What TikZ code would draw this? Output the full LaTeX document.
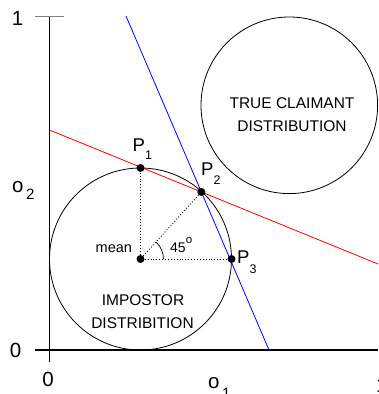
\documentclass[tikz,border=0pt]{standalone}
\usepackage{fontspec}
\setmainfont{Liberation Sans}
\newcommand\lowsub[3]{\raisebox{-#1}{\fontsize{#2}{#2}\selectfont #3}}
\begin{document}
\begin{tikzpicture}[x=1pt,y=-1pt,
  axis/.style={line width=1.2pt,black},
  dist/.style={circle,draw,line width=0.8pt,inner sep=0pt},
  dotpt/.style={circle,fill=black,inner sep=0pt,minimum size=8pt},
  dots/.style={dotted,line width=0.9pt},
  big/.style={font=\fontsize{20.5}{20.5}\selectfont,inner sep=0pt},
  plab/.style={font=\fontsize{18.5}{18.5}\selectfont,inner sep=0pt,anchor=base west},
  disttxt/.style={font=\fontsize{15.5}{15.5}\selectfont,inner sep=0pt,anchor=base},
  txt/.style={font=\fontsize{14.5}{14.5}\selectfont,inner sep=0pt,anchor=base west}]
\useasboundingbox (0,0) rectangle (378,394);
% axes
\coordinate (yTop) at (49.5,16);
\coordinate (yBot) at (49.5,362);
\coordinate (xL) at (35,350);
\coordinate (xR) at (378,350);
\coordinate (tL) at (35,16.5);
\coordinate (tR) at (64,16.5);
\draw[axis] (yTop) -- (yBot);
\draw[axis] (xL) -- (xR);
\draw[line width=1.3pt,gray] (tL) -- (tR);
% axis labels
\node[big] (one) at (17.5,18.5) {1};
\node[big] (zeroL) at (15.5,350.5) {0};
\node[big] (zeroB) at (48,379) {0};
\node[big,anchor=base west] (o2) at (12,192) {o\hspace{2.5pt}\lowsub{7pt}{15}{2}};
\node[big,anchor=base west] (o1) at (208,388) {o\hspace{2.5pt}\lowsub{10pt}{15}{1}};
\node[big,anchor=base west] (oneR) at (376,392) {1};
% distributions
\node[dist,minimum size=182pt] (imp) at (140.5,259) {};
\node[dist,minimum size=176.6pt] (tc) at (289.3,105.3) {};
\node[disttxt] (tc1) at (292,108.5) {TRUE CLAIMANT};
\node[disttxt] (tc2) at (292,131.5) {DISTRIBUTION};
\node[disttxt] (imp1) at (143,305) {IMPOSTOR};
\node[disttxt] (imp2) at (142.5,328) {DISTRIBITION};
% lines
\coordinate (rA) at (49.5,130);
\coordinate (rB) at (378,264);
\coordinate (bA) at (126,16);
\coordinate (bB) at (269,350);
\draw[red,line width=0.8pt] (rA) -- (rB);
\draw[blue,line width=0.8pt] (bA) -- (bB);
% points
\node[dotpt] (mean) at (140.5,259) {};
\node[dotpt] (P1) at (140.5,168) {};
\node[dotpt] (P2) at (intersection of rA--rB and bA--bB) {};
\node[dotpt] (P3) at (231.5,259) {};
\draw[dots] (mean) -- (P1);
\draw[dots] (mean) -- (P3);
\draw[dots] (mean) -- (P2);
\draw[line width=0.7pt] ([shift={(23,0)}]mean.center) arc[start angle=0,end angle=-47,radius=23];
\node[txt] (meanlab) at (95.5,252) {mean};
\node[txt,font=\fontsize{14}{14}\selectfont] (ang) at (170,252) {45\raisebox{9pt}{\fontsize{11.5}{11.5}\selectfont o}};
% point labels
\node[plab] (P1lab) at (132.5,151) {P\lowsub{8pt}{12.5}{1}};
\node[plab] (P2lab) at (201,175) {P\lowsub{9pt}{12.5}{2}};
\node[plab] (P3lab) at (237,263.5) {P\lowsub{10pt}{12.5}{3}};
\end{tikzpicture}
\end{document}
